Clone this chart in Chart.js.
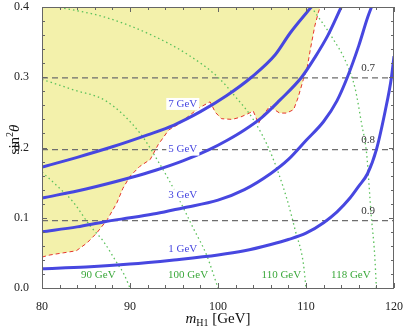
<!DOCTYPE html>
<html>
<head>
<meta charset="utf-8">
<script src="https://cdn.jsdelivr.net/npm/chart.js@4.4.0/dist/chart.umd.min.js"></script>
<style>
  body { margin: 0; background: #fff; }
</style>
</head>
<body>
<canvas id="c" width="403" height="328"></canvas>
<script>
// blue curves: sin^2 theta vs m_H1 for fixed mass splitting
var m1 = [80, 85, 90, 95, 100, 103, 106, 108, 110, 112, 113.5, 115, 116, 117, 118, 119, 119.7, 120];
var v1 = [0.0275, 0.030, 0.034, 0.040, 0.047, 0.053, 0.062, 0.069, 0.078, 0.093, 0.108, 0.128, 0.145, 0.163, 0.197, 0.252, 0.299, 0.33];
var m3 = [80, 84, 87, 90, 93, 96, 100, 103, 106, 108, 110, 112, 113.5, 114.7, 116, 117, 117.6];
var v3 = [0.080, 0.087, 0.094, 0.100, 0.106, 0.114, 0.125, 0.140, 0.163, 0.183, 0.210, 0.237, 0.266, 0.300, 0.345, 0.385, 0.405];
var m5 = [80, 85, 90, 93, 96, 99, 101, 103, 105, 107, 109.5, 111, 112.5, 114];
var v5 = [0.128, 0.141, 0.157, 0.168, 0.181, 0.197, 0.210, 0.225, 0.243, 0.267, 0.300, 0.328, 0.360, 0.400];
var m7 = [80, 84, 88, 92, 95, 98, 101, 103.8, 106.5, 108.2, 110.6];
var v7 = [0.172, 0.186, 0.201, 0.218, 0.232, 0.251, 0.274, 0.300, 0.332, 0.363, 0.400];

// green dotted curves (fixed heavier mass)
var g90m = [80, 82, 83.5, 85.5, 87, 88.5, 89.3, 90];
var g90v = [0.165, 0.142, 0.123, 0.088, 0.066, 0.036, 0.020, 0.0];
var g100m = [80, 83.6, 87.3, 91.1, 93.4, 95.1, 97.2, 98.7, 100];
var g100v = [0.297, 0.282, 0.266, 0.221, 0.176, 0.138, 0.085, 0.047, 0.0];
var g110m = [80, 81.3, 87.3, 92.8, 96.6, 100, 102, 104, 106, 107.8, 108.8, 109.7, 110];
var g110v = [0.404, 0.401, 0.385, 0.358, 0.332, 0.300, 0.272, 0.240, 0.192, 0.128, 0.081, 0.035, 0.0];
var g118m = [110.6, 112.9, 114.6, 115.6, 116.3, 116.9, 117.4, 117.8, 118];
var g118v = [0.40, 0.358, 0.320, 0.283, 0.235, 0.190, 0.105, 0.048, 0.0];

// gray dashed lines
var grayLevels = [0.096, 0.197, 0.299];
var grayNames = ["0.9", "0.8", "0.7"];

// excluded region boundary (red dashed), filled upward
var exM = [80, 80.9, 82.4, 83.9, 85.1, 86.2, 87.4, 88.5, 89.2, 90, 91.1, 92.3, 93.2, 94.4, 95.5, 96.6, 97.8, 99.1, 99.7, 100.4, 101.6, 102.5, 103.4, 104, 104.6, 105, 105.9, 106.4, 107, 107.8, 108.6, 109.1, 109.7, 110.1, 110.5, 111, 111.4, 111.6];
var exV = [0.044, 0.047, 0.050, 0.053, 0.064, 0.078, 0.097, 0.121, 0.142, 0.159, 0.173, 0.183, 0.204, 0.225, 0.233, 0.244, 0.256, 0.265, 0.250, 0.241, 0.240, 0.243, 0.248, 0.252, 0.234, 0.244, 0.259, 0.254, 0.249, 0.249, 0.254, 0.271, 0.297, 0.311, 0.34, 0.373, 0.392, 0.40];

var xTicks = [80, 90, 100, 110, 120];
var yTicks = [0.0, 0.1, 0.2, 0.3, 0.4];

function pts(xs, ys) {
  return xs.map(function (m, i) { return { x: m, y: ys[i] }; });
}

var BLUE = "#4747e0";
var GREEN = "#5cc15c";
var serif = "'Liberation Serif', 'DejaVu Serif', serif";

function blue(xs, ys) {
  return { data: pts(xs, ys), showLine: true, borderColor: BLUE, borderWidth: 3, pointRadius: 0,
    cubicInterpolationMode: "monotone", clip: 0, order: 1 };
}
function green(xs, ys) {
  return { data: pts(xs, ys), showLine: true, borderColor: GREEN, borderWidth: 1.3, borderDash: [1.5, 3],
    pointRadius: 0, cubicInterpolationMode: "monotone", clip: 0, order: 2 };
}

var datasets = [
  blue(m1, v1), blue(m3, v3), blue(m5, v5), blue(m7, v7),
  green(g90m, g90v), green(g100m, g100v), green(g110m, g110v), green(g118m, g118v)
];
grayLevels.forEach(function (lv) {
  datasets.push({ data: pts([80, 120], [lv, lv]), showLine: true, borderColor: "#6e6e6e", borderWidth: 1.2,
    borderDash: [6, 4], pointRadius: 0, clip: 0, order: 3 });
});
datasets.push({ data: pts(exM, exV), showLine: true, borderColor: "#e5342c", borderWidth: 1, borderDash: [4, 3],
  pointRadius: 0, fill: "end", backgroundColor: "#f3f1ab", clip: 0, order: 4 });

// text annotations (data coords)
var notes = [
  { t: "1 GeV", x: 96, y: 0.056, c: BLUE, bg: true },
  { t: "3 GeV", x: 96, y: 0.132, c: BLUE, bg: true },
  { t: "5 GeV", x: 96, y: 0.197, c: BLUE, bg: true },
  { t: "7 GeV", x: 96, y: 0.262, c: BLUE, bg: true },
  { t: "90 GeV", x: 86.4, y: 0.018, c: "#3aa83a" },
  { t: "100 GeV", x: 96.6, y: 0.018, c: "#3aa83a" },
  { t: "110 GeV", x: 107.2, y: 0.018, c: "#3aa83a" },
  { t: "118 GeV", x: 115.1, y: 0.018, c: "#3aa83a" }
];
grayNames.forEach(function (n, i) {
  notes.push({ t: n, x: 117.05, y: grayLevels[i] + 0.0135, c: "#333" });
});

var frame = {
  id: "frame",
  afterDatasetsDraw: function (chart) {
    var ctx = chart.ctx, a = chart.chartArea, x = chart.scales.x, y = chart.scales.y;
    ctx.save();
    ctx.strokeStyle = "#666";
    ctx.lineWidth = 1;
    ctx.strokeRect(Math.round(a.left) + 0.5, Math.round(a.top) + 0.5, Math.round(a.width) - 1, Math.round(a.height));
    ctx.beginPath();
    for (var m = 80; m <= 120; m += 2) {
      var px = Math.round(x.getPixelForValue(m)) + 0.5;
      var len = m % 10 === 0 ? 5 : 3;
      ctx.moveTo(px, a.bottom); ctx.lineTo(px, a.bottom - len);
      ctx.moveTo(px, a.top); ctx.lineTo(px, a.top + len);
    }
    for (var k = 0; k <= 20; k++) {
      var py = Math.round(y.getPixelForValue(k * 0.02)) + 0.5;
      var l2 = k % 5 === 0 ? 5 : 3;
      ctx.moveTo(a.left, py); ctx.lineTo(a.left + l2, py);
      ctx.moveTo(a.right, py); ctx.lineTo(a.right - l2, py);
    }
    ctx.stroke();

    ctx.font = "11px " + serif;
    ctx.textAlign = "center";
    ctx.textBaseline = "middle";
    notes.forEach(function (n) {
      var nx = x.getPixelForValue(n.x), ny = y.getPixelForValue(n.y);
      if (n.bg) {
        var w = ctx.measureText(n.t).width;
        ctx.fillStyle = "#fff";
        ctx.fillRect(nx - w / 2 - 2, ny - 6, w + 4, 12);
      }
      ctx.fillStyle = n.c;
      ctx.fillText(n.t, nx, ny);
    });

    // axis titles
    ctx.fillStyle = "#111";
    ctx.textBaseline = "alphabetic";
    ctx.textAlign = "left";
    var cx = (a.left + a.right) / 2;
    ctx.font = "italic 15px " + serif;
    var wm = ctx.measureText("m").width;
    ctx.font = "10px " + serif;
    var ws = ctx.measureText("H1").width;
    ctx.font = "15px " + serif;
    var wg = ctx.measureText(" [GeV]").width;
    var sx = cx - (wm + ws + wg) / 2, base = 323;
    ctx.font = "italic 15px " + serif; ctx.fillText("m", sx, base);
    ctx.font = "10px " + serif; ctx.fillText("H1", sx + wm, base + 3);
    ctx.font = "15px " + serif; ctx.fillText(" [GeV]", sx + wm + ws, base);

    ctx.translate(19, (a.top + a.bottom) / 2 - 8);
    ctx.rotate(-Math.PI / 2);
    ctx.font = "15px " + serif;
    var w1 = ctx.measureText("sin").width;
    ctx.font = "10px " + serif;
    var w2 = ctx.measureText("2").width;
    ctx.font = "italic 15px " + serif;
    var w3 = ctx.measureText("\u03b8").width;
    var tx = -(w1 + w2 + w3) / 2;
    ctx.font = "15px " + serif; ctx.fillText("sin", tx, 0);
    ctx.font = "10px " + serif; ctx.fillText("2", tx + w1, -6);
    ctx.font = "italic 15px " + serif; ctx.fillText("\u03b8", tx + w1 + w2, 0);
    ctx.restore();
  }
};

var chart = new Chart(document.getElementById("c"), {
  type: "scatter",
  data: { datasets: datasets },
  options: {
    responsive: false,
    animation: false,
    devicePixelRatio: 1,
    layout: { padding: { top: 7, right: 9, left: 0, bottom: 0 } },
    plugins: { legend: { display: false }, tooltip: { enabled: false } },
    scales: {
      x: {
        type: "linear", min: 80, max: 120,
        afterBuildTicks: function (s) { s.ticks = xTicks.map(function (v) { return { value: v }; }); },
        afterFit: function (s) { s.height = 40; s.paddingLeft = 0; s.paddingRight = 0; },
        grid: { display: false }, border: { display: false },
        ticks: { color: "#222", font: { family: serif, size: 12 }, padding: 4, maxRotation: 0 }
      },
      y: {
        type: "linear", min: 0, max: 0.4,
        afterBuildTicks: function (s) { s.ticks = yTicks.map(function (v) { return { value: v }; }); },
        afterFit: function (s) { s.width = 42; s.paddingTop = 0; s.paddingBottom = 0; },
        grid: { display: false }, border: { display: false },
        ticks: { color: "#222", font: { family: serif, size: 12 }, padding: 5,
          callback: function (v) { return Number(v).toFixed(1); } }
      }
    }
  },
  plugins: [frame]
});
</script>
</body>
</html>
